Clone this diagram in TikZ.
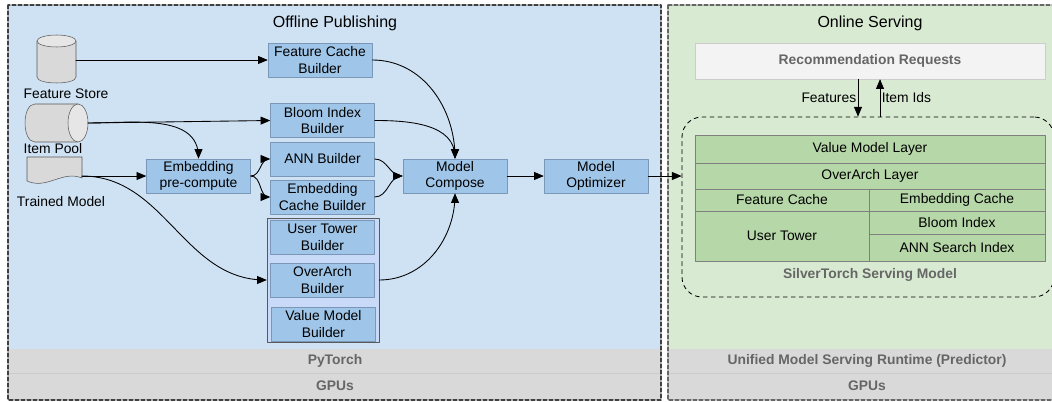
\documentclass[tikz,border=0pt]{standalone}
\usepackage{fontspec}
\setmainfont{Liberation Sans}
\usepackage{tikz}
\tikzset{>=latex}
\usetikzlibrary{shapes,arrows}
\definecolor{offblue}{HTML}{CFE2F3}
\definecolor{ongreen}{HTML}{D9EAD3}
\definecolor{bargray}{HTML}{D9D9D9}
\definecolor{barline}{HTML}{CCCCCC}
\definecolor{graytxt}{HTML}{666666}
\definecolor{boxfill}{HTML}{9FC5E8}
\definecolor{boxline}{HTML}{7A97B8}
\definecolor{grpfill}{HTML}{C9DAF8}
\definecolor{grpline}{HTML}{595959}
\definecolor{cellfill}{HTML}{B6D7A8}
\definecolor{cellline}{HTML}{7F7F7F}
\definecolor{reqfill}{HTML}{F3F3F3}
\definecolor{reqline}{HTML}{CCCCCC}
\definecolor{cylbody}{HTML}{D9D9D9}
\definecolor{cylend}{HTML}{E6E6E6}
\tikzset{
  blk/.style={draw=boxline,fill=boxfill,minimum width=78pt,minimum height=25.5pt,inner sep=0pt,align=center},
  grp/.style={draw=grpline,fill=grpfill,minimum width=84pt,minimum height=93pt,inner sep=0pt},
  cell/.style={draw=cellline,fill=cellfill,inner sep=0pt},
  store/.style={draw=grpline,fill=cylbody},
  storeend/.style={draw=grpline,fill=cylend},
  conn/.style={->,line width=0.65pt},
  panel/.style={dash pattern=on 3pt off 1.5pt,line width=0.8pt},
  graybold/.style={text=graytxt,font=\bfseries},
  title/.style={font=\fontsize{12}{14}\selectfont}
}
\begin{document}
\fontsize{10.4}{12.5}\selectfont
\begin{tikzpicture}[line cap=round,line join=round,>=triangle 45,x=0.75pt,y=-0.75pt]
		\useasboundingbox (0,0) rectangle (1052,402);
		% panels
		\fill[offblue] (8,5) rectangle (661,349);
		\fill[ongreen] (668,5) rectangle (1058,349);
		\foreach \xa/\xb in {8/661,668/1058} {
			\fill[bargray] (\xa,349) rectangle (\xb,400);
			\draw[barline] (\xa,373) -- (\xb,373);
		}
		\node[graybold] (pyt) at (335,361) {PyTorch};
		\node[graybold] (gpl) at (335,386) {GPUs};
		\node[graybold] (umsr) at (867,361) {Unified Model Serving Runtime (Predictor)};
		\node[graybold] (gpr) at (867,386) {GPUs};
		\draw[panel,black!75] (8,5) rectangle (661,400);
		\draw[panel,black!60] (668,5) rectangle (1058,400);
		\node[title] (offt) at (335,23) {Offline Publishing};
		\node[title] (ont) at (870,23) {Online Serving};
		% sources
		\draw[store] (37,41) -- (37,77) .. controls (37,85) and (76,85) .. (76,77) -- (76,41) -- cycle;
		\draw[storeend] (56.5,41) ellipse [x radius=19.5,y radius=6];
		\coordinate (fs) at (76,60);
		\node (fsl) at (66,94) {Feature Store};
		\draw[store] (78,104) -- (35,104) .. controls (21.7,104) and (21.7,142) .. (35,142) -- (78,142) -- cycle;
		\draw[storeend] (78,123) ellipse [x radius=10,y radius=19];
		\coordinate (ip) at (88,123);
		\node (ipl) at (53,149) {Item Pool};
		\draw[store] (27,157) -- (82,157) -- (82,178) .. controls (62,170) and (47,190) .. (27,181) -- cycle;
		\coordinate (tm) at (82,176);
		\node (tml) at (61,202) {Trained Model};
		% builders
		\node[blk] (fcb) at (320,60) {Feature Cache\\Builder};
		\node[blk] (bib) at (322.5,120.5) {Bloom Index\\Builder};
		\node[blk] (ann) at (322.5,159) {ANN Builder};
		\node[blk] (ecb) at (322.5,197) {Embedding\\Cache Builder};
		\node[blk] (epc) at (198.5,176) {Embedding\\pre-compute};
		\node[grp] (grp) at (323,280) {};
		\node[blk] (utb) at (322.5,237) {User Tower\\Builder};
		\node[blk] (oab) at (322.5,280) {OverArch\\Builder};
		\node[blk] (vmb) at (323.5,324) {Value Model\\Builder};
		\node[blk] (mc) at (455,176) {Model\\Compose};
		\node[blk] (mo) at (596,176) {Model\\Optimizer};
		\draw[conn] (fs) -- (fcb.west);
		\draw[conn] (ip) -- (bib.west);
		\draw[conn] (ip) to[out=0,in=90] (epc.north);
		\draw[conn] (tm) -- (epc.west);
		\draw[conn] (tm) to[out=0,in=180] (grp.west);
		\draw[conn] (epc.east) to[out=0,in=180] (ann.west);
		\draw[conn] (epc.east) to[out=0,in=180] (ecb.west);
		\draw[conn] (fcb.east) to[out=0,in=90] (mc.north);
		\draw[conn] (bib.east) to[out=0,in=90] (mc.north);
		\draw[conn] (ann.east) to[out=0,in=180] (mc.west);
		\draw[conn] (ecb.east) to[out=0,in=180] (mc.west);
		\draw[conn] (grp.east) to[out=0,in=-90] (mc.south);
		\draw[conn] (mc) -- (mo);
		% serving
		\node[draw=reqline,fill=reqfill,minimum width=262.5pt,minimum height=27pt,graybold] (rr) at (870,61) {Recommendation Requests};
		\node[draw,dashed,line width=0.65pt,rounded corners=15pt,minimum width=279pt,minimum height=135pt] (sv) at (868,207) {};
		\draw[conn] (mo.east) -- (mo.east -| sv.west);
		\draw[conn] ([xshift=-9pt]rr.south) -- ([xshift=-9pt]rr.south |- sv.north) node[midway,left,inner sep=1pt] {Features};
		\draw[conn] ([xshift=7.5pt]rr.south |- sv.north) -- ([xshift=7.5pt]rr.south) node[midway,right,inner sep=1pt] {Item Ids};
		\node[cell,minimum width=262.5pt,minimum height=21pt] (vml) at (870,149) {Value Model Layer};
		\node[cell,minimum width=262.5pt,minimum height=19.5pt] (oal) at (870,176) {OverArch Layer};
		\node[cell,minimum width=130.5pt,minimum height=16.5pt] (fc) at (782,200) {Feature Cache};
		\node[cell,minimum width=132pt,minimum height=16.5pt] (ec) at (957,200) {Embedding Cache};
		\node[cell,minimum width=130.5pt,minimum height=37.5pt] (ut) at (782,236) {User Tower};
		\node[cell,minimum width=132pt,minimum height=17.25pt] (bi) at (957,222.5) {Bloom Index};
		\node[cell,minimum width=132pt,minimum height=20.25pt] (asi) at (957,247.5) {ANN Search Index};
		\node[graybold] (stsm) at (870,275) {SilverTorch Serving Model};
\end{tikzpicture}
\end{document}
